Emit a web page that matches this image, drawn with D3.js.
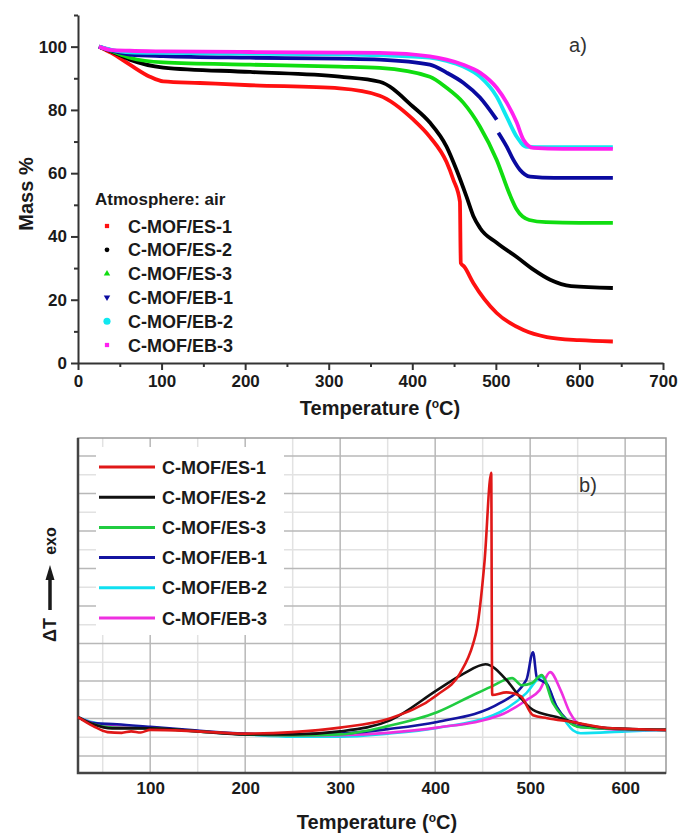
<!DOCTYPE html>
<html>
<head>
<meta charset="utf-8">
<script src="https://cdn.jsdelivr.net/npm/d3@7"></script>
<style>
  body { margin: 0; background: #fff; }
  svg { font-family: "Liberation Sans", Arial, sans-serif; }
</style>
</head>
<body>
<div id="chart"></div>
<script>
// ---- dados (a) TGA: [temperatura, massa %]
const series = ["C-MOF/ES-1", "C-MOF/ES-2", "C-MOF/ES-3", "C-MOF/EB-1", "C-MOF/EB-2", "C-MOF/EB-3"];
const coresA = ["#ff1010", "#000000", "#10dd10", "#0a0aa0", "#10e8f0", "#ff20f0"];
const coresB = ["#e01818", "#111111", "#20cc40", "#1414a0", "#10e0f0", "#ee30e0"];

const tgaES1 = [[25,100],[40,98],[62,94.3],[86,90.5],[102,89],[146,88.5],[206,87.8],[313,86.8],[361,84.5],[401,77],[421,71.5],[441,63.5],[449,58],[457,51],[458,31.6],[462,30.5],[473,25.3],[501,15.8],[533,10.4],[561,8.2],[600,7.2],[640,6.8]];
const tgaES2 = [[25,100],[40,98.5],[62,95.9],[102,93.4],[206,92],[313,90.5],[361,88.9],[401,81],[421,76],[441,68.4],[453,61],[465,52.5],[473,46.5],[481,42.7],[501,38],[525,33.5],[545,29.5],[565,26.3],[590,24.3],[640,23.7]];
const tgaES3 = [[25,100],[40,98.6],[62,96.5],[102,95],[206,94.3],[313,93.7],[361,93.3],[421,90.5],[441,87],[461,82.3],[481,74.7],[501,64.2],[517,53],[525,48.5],[540,45.2],[560,44.5],[600,44.3],[640,44.3]];
const tgaEB1 = [[25,100],[40,98.8],[62,97.5],[102,97],[206,96.5],[313,96.2],[361,95.9],[421,94.3],[441,91.8],[461,88.6],[481,83.9],[501,76.9],[null,null],[503,72.8],[513,68.4],[521,64.2],[529,61],[541,58.9],[570,58.5],[640,58.5]];
const tgaEB2 = [[25,100],[40,99],[62,98.2],[102,98],[206,97.8],[313,97.6],[361,97.3],[421,96.5],[441,95.5],[461,93.7],[481,90.5],[501,84.2],[513,77.8],[525,71.5],[537,68.3],[560,68.2],[640,68.2]];
const tgaEB3 = [[25,100],[38,99],[62,98.7],[102,98.5],[206,98.3],[313,98.1],[361,98],[421,96.9],[441,95.9],[461,94.3],[481,91.8],[501,87],[513,82.3],[525,76],[533,70.6],[545,68],[580,67.7],[640,67.7]];
const dadosA = [tgaES1, tgaES2, tgaES3, tgaEB1, tgaEB2, tgaEB3];

const ticksXA = [0, 100, 200, 300, 400, 500, 600, 700];
const ticksYA = [0, 20, 40, 60, 80, 100];

// ---- dados (b) DTA: [temperatura, sinal (u.a.)]
const dtaES1 = [[24,1.04],[40,0.8],[55,0.64],[70,0.62],[80,0.66],[90,0.63],[100,0.7],[150,0.66],[200,0.6],[250,0.64],[300,0.76],[353,1.01],[402,1.63],[426,2.2],[440,3.0],[444,3.4],[452,5.2],[459,7.55],[460,1.63],[475,1.7],[490,1.6],[503,1.09],[518,1.01],[545,0.91],[581,0.75],[643,0.7]];
const dtaES2 = [[24,1.04],[40,0.85],[60,0.74],[100,0.74],[150,0.66],[200,0.58],[250,0.58],[300,0.66],[353,0.96],[402,1.76],[430,2.2],[453,2.45],[475,2.03],[489,1.58],[503,1.23],[528,1.04],[545,0.91],[581,0.75],[643,0.7]];
const dtaES3 = [[24,1.04],[40,0.85],[60,0.76],[100,0.74],[150,0.66],[200,0.58],[250,0.55],[300,0.58],[350,0.8],[402,1.17],[440,1.63],[458,1.84],[481,2.08],[491,1.89],[502,1.95],[512,2.16],[524,1.41],[535,1.04],[553,0.77],[600,0.72],[643,0.7]];
const dtaEB1 = [[24,1.04],[40,0.88],[65,0.85],[100,0.78],[150,0.68],[200,0.6],[250,0.57],[300,0.6],[350,0.72],[402,0.91],[468,1.41],[496,2.03],[503,2.77],[507,2.1],[518,1.9],[528,1.31],[539,0.96],[553,0.78],[600,0.72],[643,0.7]];
const dtaEB2 = [[24,1.04],[40,0.9],[60,0.82],[100,0.76],[150,0.66],[200,0.58],[250,0.52],[300,0.52],[350,0.6],[402,0.75],[468,1.17],[496,1.68],[512,2.11],[528,1.31],[545,0.69],[553,0.61],[600,0.66],[643,0.7]];
const dtaEB3 = [[24,1.04],[40,0.88],[60,0.8],[100,0.76],[150,0.66],[200,0.58],[250,0.55],[300,0.56],[350,0.62],[402,0.76],[468,1.09],[496,1.49],[510,1.76],[521,2.24],[532,1.76],[542,1.15],[553,0.83],[600,0.7],[643,0.7]];
const dadosB = [dtaES1, dtaES2, dtaES3, dtaEB1, dtaEB2, dtaEB3];

const ticksXB = [100, 200, 300, 400, 500, 600];

const svg = d3.select("#chart").append("svg")
    .attr("width", 681)
    .attr("height", 834);

const corTexto = "#1a1a1a";

// ================= (a) =================
const xA = d3.scaleLinear().domain([0, 700]).range([78, 663]);
const yA = d3.scaleLinear().domain([0, 110]).range([363, 15]);

const gA = svg.append("g");

// eixos
gA.append("g")
    .attr("transform", `translate(0,${yA(0)})`)
    .call(d3.axisBottom(xA).tickValues(ticksXA).tickSize(7).tickPadding(5).tickSizeOuter(0));
gA.append("g")
    .attr("transform", `translate(0,${yA(0)})`)
    .call(d3.axisBottom(xA).tickValues(d3.range(50, 700, 100)).tickSize(4).tickFormat(""))
    .select(".domain").remove();

gA.append("g")
    .attr("transform", `translate(${xA(0)},0)`)
    .call(d3.axisLeft(yA).tickValues(ticksYA).tickSize(7).tickPadding(4).tickSizeOuter(0));
gA.append("g")
    .attr("transform", `translate(${xA(0)},0)`)
    .call(d3.axisLeft(yA).tickValues(d3.range(10, 111, 20)).tickSize(4).tickFormat(""))
    .select(".domain").remove();

gA.selectAll(".domain, .tick line").attr("stroke", "#333").attr("stroke-width", 2);
gA.selectAll(".tick text")
    .attr("fill", corTexto)
    .style("font-size", "17px")
    .style("font-weight", "bold");

// rótulos
gA.append("text")
    .attr("transform", `translate(33,194) rotate(-90)`)
    .attr("text-anchor", "middle")
    .attr("fill", corTexto)
    .style("font-size", "20px")
    .style("font-weight", "bold")
    .text("Mass %");

const rotA = gA.append("text")
    .attr("x", 380)
    .attr("y", 415)
    .attr("text-anchor", "middle")
    .attr("fill", corTexto)
    .style("font-size", "20px")
    .style("font-weight", "bold");
rotA.append("tspan").text("Temperature (");
rotA.append("tspan").attr("dy", -7).style("font-size", "12px").text("o");
rotA.append("tspan").attr("dy", 7).text("C)");

gA.append("text")
    .attr("x", 578)
    .attr("y", 52)
    .attr("text-anchor", "middle")
    .attr("fill", "#333")
    .style("font-size", "20px")
    .text("a)");

// curvas
const linhaA = d3.line()
    .defined(d => d[0] !== null)
    .x(d => xA(d[0]))
    .y(d => yA(d[1]))
    .curve(d3.curveMonotoneX);

dadosA.forEach((d, i) => {
    gA.append("path")
        .datum(d)
        .attr("d", linhaA)
        .attr("fill", "none")
        .attr("stroke", coresA[i])
        .attr("stroke-width", 3.8)
        .attr("stroke-linejoin", "round");
});

// legenda
gA.append("text")
    .attr("x", 95)
    .attr("y", 205)
    .attr("fill", corTexto)
    .style("font-size", "17px")
    .style("font-weight", "bold")
    .text("Atmosphere: air");

const simbolos = [d3.symbolSquare, d3.symbolCircle, d3.symbolTriangle, d3.symbolTriangle, d3.symbolCircle, d3.symbolSquare];
series.forEach((s, i) => {
    const y = 226 + i * 23.8;
    gA.append("path")
        .attr("transform", `translate(107,${y}) rotate(${i === 3 ? 180 : 0})`)
        .attr("d", d3.symbol().type(simbolos[i]).size(i === 4 ? 40 : 18))
        .attr("fill", coresA[i]);
    gA.append("text")
        .attr("x", 128)
        .attr("y", y + 6.5)
        .attr("fill", corTexto)
        .style("font-size", "18px")
        .style("font-weight", "bold")
        .text(s);
});

// ================= (b) =================
const xB = d3.scaleLinear().domain([24, 643]).range([78, 666]);
const yB = d3.scaleLinear().domain([-0.45, 8.48]).range([773, 438]);

const gB = svg.append("g");

// grade
gB.selectAll(".vmin")
    .data(d3.range(50, 643, 100))
    .enter().append("line")
    .attr("x1", d => xB(d)).attr("x2", d => xB(d))
    .attr("y1", yB.range()[0]).attr("y2", yB.range()[1])
    .attr("stroke", "#e2e2e2").attr("stroke-width", 1.5);
gB.selectAll(".hmin")
    .data(d3.range(0.5, 8.4, 1))
    .enter().append("line")
    .attr("x1", xB.range()[0]).attr("x2", xB.range()[1])
    .attr("y1", d => yB(d)).attr("y2", d => yB(d))
    .attr("stroke", "#e2e2e2").attr("stroke-width", 1.5);
gB.selectAll(".vmaj")
    .data(ticksXB)
    .enter().append("line")
    .attr("x1", d => xB(d)).attr("x2", d => xB(d))
    .attr("y1", yB.range()[0]).attr("y2", yB.range()[1])
    .attr("stroke", "#b8b8b8").attr("stroke-width", 1.5);
gB.selectAll(".hmaj")
    .data(d3.range(0, 8.4, 1))
    .enter().append("line")
    .attr("x1", xB.range()[0]).attr("x2", xB.range()[1])
    .attr("y1", d => yB(d)).attr("y2", d => yB(d))
    .attr("stroke", "#b8b8b8").attr("stroke-width", 1.5);

// moldura
gB.append("rect")
    .attr("x", 78).attr("y", 438)
    .attr("width", 588).attr("height", 335)
    .attr("fill", "none")
    .attr("stroke", "#999").attr("stroke-width", 1.5);
gB.append("path")
    .attr("d", `M78,438V773H666`)
    .attr("fill", "none")
    .attr("stroke", "#444").attr("stroke-width", 2.5);

// eixo x
const eixoXB = gB.append("g")
    .attr("transform", `translate(0,773)`)
    .call(d3.axisBottom(xB).tickValues(ticksXB).tickSize(0).tickPadding(9));
eixoXB.select(".domain").remove();
eixoXB.selectAll(".tick text")
    .attr("fill", corTexto)
    .style("font-size", "17px")
    .style("font-weight", "bold");

// legenda (caixa branca)
gB.append("rect")
    .attr("x", 96).attr("y", 447)
    .attr("width", 188).attr("height", 188)
    .attr("fill", "#fff");

// curvas
const linhaB = d3.line()
    .x(d => xB(d[0]))
    .y(d => yB(d[1]))
    .curve(d3.curveMonotoneX);

[4, 5, 3, 2, 1, 0].forEach(i => {
    gB.append("path")
        .datum(dadosB[i])
        .attr("d", linhaB)
        .attr("fill", "none")
        .attr("stroke", coresB[i])
        .attr("stroke-width", 2.6)
        .attr("stroke-linejoin", "round");
});

series.forEach((s, i) => {
    const y = 467 + i * 30.2;
    gB.append("line")
        .attr("x1", 99).attr("x2", 155)
        .attr("y1", y).attr("y2", y)
        .attr("stroke", coresB[i])
        .attr("stroke-width", 3);
    gB.append("text")
        .attr("x", 162)
        .attr("y", y + 6.5)
        .attr("fill", corTexto)
        .style("font-size", "18px")
        .style("font-weight", "bold")
        .text(s);
});

gB.append("text")
    .attr("x", 588)
    .attr("y", 492)
    .attr("text-anchor", "middle")
    .attr("fill", "#333")
    .style("font-size", "20px")
    .text("b)");

// rótulo y: ΔT -> exo
const rotY = gB.append("g").attr("transform", "translate(50,0)");
rotY.append("text")
    .attr("transform", "translate(6,630) rotate(-90)")
    .attr("text-anchor", "middle")
    .attr("fill", corTexto)
    .style("font-size", "18px")
    .style("font-weight", "bold")
    .text("ΔT");
rotY.append("line")
    .attr("x1", 0).attr("x2", 0)
    .attr("y1", 610).attr("y2", 578)
    .attr("stroke", corTexto).attr("stroke-width", 3.5);
rotY.append("path")
    .attr("d", "M-4.5,580 L0,565 L4.5,580 Z")
    .attr("fill", corTexto);
rotY.append("text")
    .attr("transform", "translate(6,541) rotate(-90)")
    .attr("text-anchor", "middle")
    .attr("fill", corTexto)
    .style("font-size", "16px")
    .style("font-weight", "bold")
    .text("exo");

const rotB = gB.append("text")
    .attr("x", 377)
    .attr("y", 829)
    .attr("text-anchor", "middle")
    .attr("fill", corTexto)
    .style("font-size", "20px")
    .style("font-weight", "bold");
rotB.append("tspan").text("Temperature (");
rotB.append("tspan").attr("dy", -7).style("font-size", "12px").text("o");
rotB.append("tspan").attr("dy", 7).text("C)");
</script>
</body>
</html>
